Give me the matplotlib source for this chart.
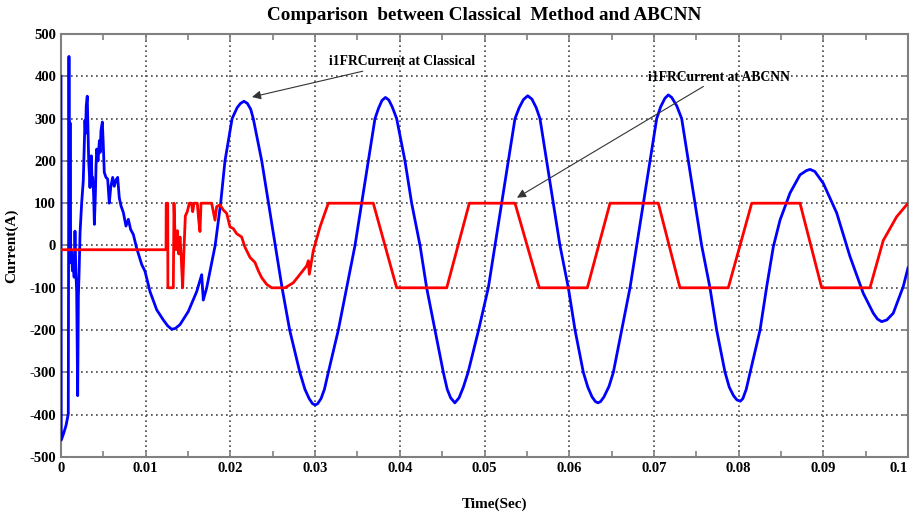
import numpy as np
import matplotlib
matplotlib.use('Agg')
import matplotlib.pyplot as plt
from matplotlib.ticker import MultipleLocator

# blue trace: i1FR current, classical method  (time in s, current in A)
t_classical = [
    0.0, 0.00003, 0.0003, 0.0006, 0.00086, 0.00094, 0.00100, 0.00107, 0.00115, 0.00125,
    0.00135, 0.00145, 0.00155, 0.00165, 0.00175, 0.00185, 0.00197, 0.00205, 0.00213, 0.00225,
    0.00244, 0.00263, 0.00275, 0.00283, 0.0029, 0.00298, 0.0031, 0.00318, 0.00327, 0.00335,
    0.00342, 0.00358, 0.00366, 0.00374, 0.00385, 0.00394, 0.00406, 0.00414, 0.00422, 0.00437,
    0.00453, 0.00462, 0.00472, 0.00488, 0.00499, 0.00511, 0.00531, 0.00551, 0.0057, 0.00587,
    0.0061, 0.00629, 0.00649, 0.00669, 0.00688, 0.00708, 0.00736, 0.00767, 0.00795, 0.00822,
    0.00854, 0.00893, 0.00953, 0.00992, 0.01051, 0.0113, 0.01208, 0.0126, 0.01307, 0.0135,
    0.01405, 0.01503, 0.01602, 0.01661, 0.0168, 0.0172, 0.0182, 0.01885, 0.01936, 0.0202,
    0.0208, 0.0212, 0.0216, 0.0220, 0.0224, 0.0227, 0.0237, 0.0245, 0.0253, 0.0261,
    0.0270, 0.0282, 0.0288, 0.0293, 0.0297, 0.0300, 0.0303, 0.0307, 0.0311, 0.03156,
    0.03274, 0.03373, 0.03471, 0.0355, 0.03628, 0.03707, 0.0375, 0.0379, 0.0383, 0.0387,
    0.0391, 0.03963, 0.04061, 0.0414, 0.04239, 0.04317, 0.04416, 0.04514, 0.0456, 0.0460,
    0.0465, 0.0470, 0.0475, 0.04806, 0.0493, 0.05045, 0.05124, 0.05203, 0.05281, 0.0536,
    0.0541, 0.0546, 0.0551, 0.0556, 0.0561, 0.05655, 0.05734, 0.05813, 0.05891, 0.0599,
    0.06069, 0.06167, 0.0622, 0.0627, 0.0631, 0.0634, 0.0637, 0.0641, 0.0647, 0.06521,
    0.0662, 0.06718, 0.06797, 0.06875, 0.06954, 0.07033, 0.0708, 0.0713, 0.0717, 0.0721,
    0.0727, 0.07328, 0.07406, 0.07485, 0.07564, 0.07662, 0.07741, 0.0784, 0.0789, 0.0794,
    0.0798, 0.0802, 0.0805, 0.0809, 0.08135, 0.08253, 0.08332, 0.0841, 0.08489, 0.08607,
    0.08725, 0.0880, 0.08843, 0.0890, 0.0900, 0.09158, 0.09315, 0.09472, 0.0959, 0.0964,
    0.09689, 0.0975, 0.09826, 0.09944, 0.1,
]
i_classical = [
    400, -460, -445, -425, -398, 447, -20, 290, -40, -15,
    -60, -25, -75, 34, -60, -110, -355, -120, -69, 30,
    101, 153, 240, 296, 265, 330, 353, 280, 200, 170,
    137, 212, 150, 161, 120, 50, 122, 190, 228, 200,
    248, 220, 272, 292, 240, 173, 161, 157, 100, 137,
    161, 140, 155, 161, 113, 94, 78, 46, 62, 38,
    26, -6, -45, -61, -109, -152, -176, -190, -198, -196,
    -187, -156, -109, -69, -129, -100, 0, 100, 200, 300,
    326, 336, 341, 336, 322, 300, 200, 100, 0, -100,
    -200, -300, -340, -362, -374, -377, -374, -362, -340, -300,
    -200, -100, 0, 100, 200, 300, 325, 343, 350, 344,
    328, 300, 200, 100, 0, -100, -200, -300, -340, -360,
    -372, -360, -335, -300, -200, -100, 0, 100, 200, 300,
    326, 345, 354, 346, 326, 300, 200, 100, 0, -100,
    -200, -300, -335, -358, -369, -372, -369, -358, -333, -300,
    -200, -100, 0, 100, 200, 300, 328, 348, 356, 350,
    330, 300, 200, 100, 0, -100, -200, -300, -335, -355,
    -365, -368, -362, -340, -301, -200, -97, -3, 60, 124,
    167, 177, 180, 175, 147, 77, -26, -113, -160, -174,
    -180, -176, -160, -97, -53,
]

# red trace: i1FR current, ABCNN
t_abcnn = [
    0.0, 0.0124, 0.01242, 0.0126, 0.01262, 0.01326, 0.01334, 0.0135, 0.01358, 0.01374,
    0.0139, 0.01405, 0.0142, 0.01436, 0.01452, 0.01468, 0.01491, 0.01515, 0.0154, 0.01555,
    0.0157, 0.01609, 0.01626, 0.01641, 0.01653, 0.01779, 0.01818, 0.01838, 0.01877, 0.01916,
    0.01956, 0.01995, 0.02034, 0.02074, 0.02133, 0.02172, 0.02231, 0.0229, 0.0233, 0.02369,
    0.02429, 0.02488, 0.02645, 0.02743, 0.02822, 0.02901, 0.0292, 0.02932, 0.02979, 0.03058,
    0.03156, 0.03687, 0.03963, 0.04554, 0.04821, 0.0536, 0.05647, 0.06214, 0.06482, 0.07052,
    0.07308, 0.07878, 0.08155, 0.08725, 0.08981, 0.09551, 0.09708, 0.09866, 0.1,
]
i_abcnn = [
    -10, -10, 100, 100, -100, -100, 100, 0, -10, 35,
    -20, 20, -30, -100, -10, 70, 80, 100, 100, 80,
    100, 100, 60, 33, 100, 100, 60, 92, 96, 84,
    76, 44, 40, 28, 20, -4, -28, -40, -60, -76,
    -92, -100, -100, -88, -68, -48, -36, -68, -12, 44,
    100, 100, -100, -100, 100, 100, -100, -100, 100, 100,
    -100, -100, 100, 100, -100, -100, 12, 68, 100,
]

x_ticks = [0, 0.01, 0.02, 0.03, 0.04, 0.05, 0.06, 0.07, 0.08, 0.09, 0.1]
x_ticklabels = ['0', '0.01', '0.02', '0.03', '0.04', '0.05', '0.06', '0.07', '0.08', '0.09', '0.1']
y_ticks = list(range(-500, 501, 100))

serif = ['Liberation Serif', 'DejaVu Serif']
plt.rcParams['font.family'] = serif
plt.rcParams['font.weight'] = 'bold'
plt.rcParams['axes.unicode_minus'] = False

fig = plt.figure(figsize=(9.13, 5.17), dpi=100)
ax = fig.add_axes([61/913, 1 - 457/517, 847/913, 423/517])

ax.plot(t_classical, i_classical, color='#0000ff', lw=2.0, zorder=3, solid_joinstyle='round')
ax.plot(t_abcnn, i_abcnn, color='#ff0000', lw=2.0, zorder=4)

ax.set_xlim(0, 0.1)
ax.set_ylim(-500, 500)
ax.set_xticks(x_ticks)
ax.set_xticklabels(x_ticklabels)
ax.set_yticks(y_ticks)
ax.xaxis.set_minor_locator(MultipleLocator(0.005))

ax.grid(True, which='major', color='#444444', linestyle=(0, (1, 2)), lw=1.2)
for s in ax.spines.values():
    s.set_color('#808080')
    s.set_linewidth(1.5)
ax.tick_params(which='both', direction='in', top=True, right=True, colors='#808080',
               labelcolor='black', labelsize=10.5)
ax.tick_params(which='major', length=5, width=1.2)
ax.tick_params(which='minor', length=4, width=1.2)
for lab in ax.get_xticklabels() + ax.get_yticklabels():
    lab.set_fontweight('bold')
ax.get_xticklabels()[-1].set_horizontalalignment('right')

ax.set_title('Comparison  between Classical  Method and ABCNN', fontsize=13.8,
             fontweight='bold', x=0.5, pad=10)
ax.set_ylabel('Current(A)', fontsize=11, fontweight='bold')
ax.yaxis.set_label_coords(-0.05, 0.5)
ax.set_xlabel('Time(Sec)', fontsize=11, fontweight='bold')
ax.xaxis.set_label_coords(0.512, -0.095)

arrow = dict(arrowstyle='-|>', color='#333333', lw=0.8, mutation_scale=13,
             shrinkA=0, shrinkB=0)
ax.annotate('i1FRCurrent at Classical', xy=(0.02255, 351), xytext=(0.0317, 434),
            fontsize=9.8, fontweight='bold', va='center', ha='left',
            arrowprops=arrow, zorder=5)
ax.annotate('i1FRCurrent at ABCNN', xy=(0.05384, 113), xytext=(0.0693, 398),
            fontsize=9.8, fontweight='bold', va='center', ha='left',
            arrowprops=arrow, zorder=5)

fig.savefig('out.png', dpi=100, facecolor='white')
